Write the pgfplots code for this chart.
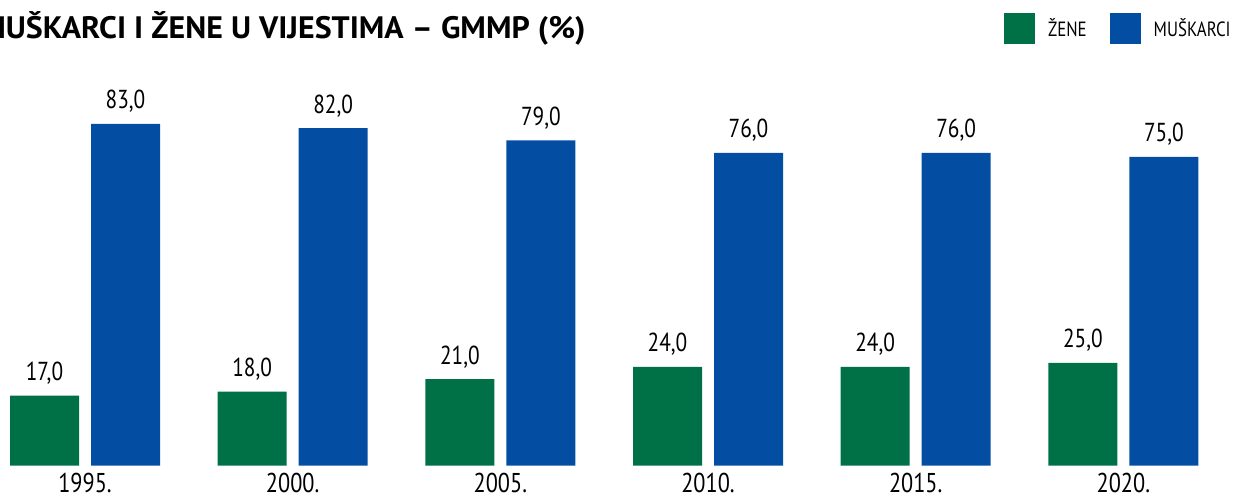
\documentclass[border=0pt]{standalone}
\usepackage{fontspec}
\setmainfont{PT Sans}[FakeStretch=0.82]
\newfontfamily\titlefont{PT Sans}[FakeStretch=1.03]
\usepackage{pgfplots}
\pgfplotsset{compat=1.18}
\definecolor{zgreen}{HTML}{007046}
\definecolor{zblue}{HTML}{034EA2}
\begin{document}
\begin{tikzpicture}
\useasboundingbox (0,0) rectangle (617pt,249.5pt);
\clip (0,0) rectangle (617pt,249.5pt);
\begin{axis}[
  at={(0pt,16.65pt)}, anchor=south west,
  scale only axis, width=617pt, height=232.85pt,
  xmin=-0.4093, xmax=5.5328, ymin=0, ymax=113.11,
  axis line style={draw=none},
  ytick=\empty,
  xtick={0,1,2,3,4,5},
  xticklabels={1995.,2000.,2005.,2010.,2015.,2020.},
  major tick length=0pt,
  xticklabel style={anchor=base, inner sep=0pt, yshift=-13.4pt, font=\fontsize{13.6}{13.6}\selectfont},
  ybar, bar width=34.5pt,
  nodes near coords={\pgfmathprintnumber[fixed,fixed zerofill,precision=1,use comma,assume math mode=true]{\pgfplotspointmeta}},
  every node near coord/.append style={anchor=base, inner sep=0pt, yshift=7.5pt, font=\fontsize{13}{13}\selectfont, text=black},
  legend columns=2,
  legend image code/.code={\fill[#1] (0pt,-7.75pt) rectangle (15.5pt,7.75pt);},
  legend style={draw=none, fill=none, inner sep=0pt, at={(0.99757,0.9721)}, anchor=north east,
    font=\fontsize{10.3}{10.3}\selectfont,
    nodes={inner sep=0pt},
    /tikz/every odd column/.append style={column sep=6.5pt},
    /tikz/every even column/.append style={column sep=11.5pt}},
  clip=false,
]
\addplot[draw=none, fill=zgreen, bar shift=-20.25pt] coordinates {(0,17) (1,18) (2,21) (3,24) (4,24) (5,25)};
\addlegendentry{ŽENE}
\addplot[draw=none, fill=zblue, bar shift=20.25pt] coordinates {(0,83) (1,82) (2,79) (3,76) (4,76) (5,75)};
\addlegendentry{MUŠKARCI}
\end{axis}
\node[anchor=base east, inner sep=0pt, font=\titlefont\bfseries\fontsize{15.5}{15.5}\selectfont] at (293pt,230pt) {MUŠKARCI I ŽENE U VIJESTIMA – GMMP (\%)};
\end{tikzpicture}
\end{document}
